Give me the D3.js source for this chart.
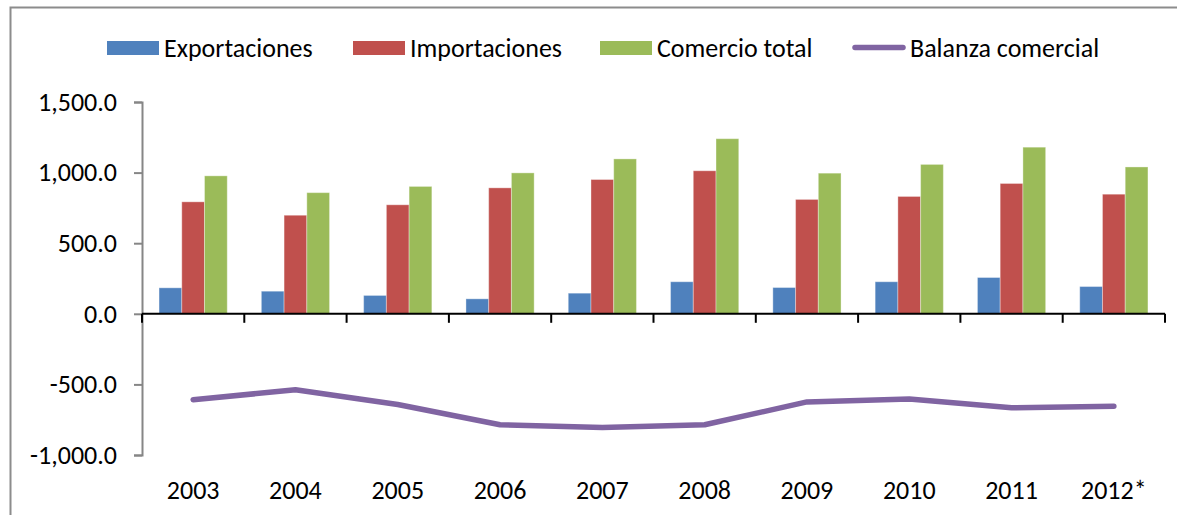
<!DOCTYPE html>
<html>
<head>
<meta charset="utf-8">
<script src="https://cdn.jsdelivr.net/npm/d3@7"></script>
<style>
  html, body { margin: 0; padding: 0; background: #fff; }
  svg { display: block; }
  text { font-family: Carlito, Lato, "Liberation Sans", sans-serif; fill: #000; }
</style>
</head>
<body>
<svg id="chart" width="1177" height="515"></svg>
<script>
const years = ["2003","2004","2005","2006","2007","2008","2009","2010","2011","2012*"];
const exportaciones = [184, 160, 130, 106, 146, 227, 186, 227, 257, 193];
const importaciones = [793, 698, 772, 892, 951, 1013, 810, 831, 923, 847];
const comercioTotal = [977, 858, 902, 998, 1097, 1240, 996, 1058, 1180, 1040];
const balanzaComercial = [-609, -538, -642, -786, -805, -786, -624, -604, -666, -654];
const yTicks = [-1000, -500, 0, 500, 1000, 1500];
const seriesNames = ["Exportaciones", "Importaciones", "Comercio total"];
const lineName = "Balanza comercial";
const colors = ["#4F81BD", "#C0504D", "#9BBB59"];
const lineColor = "#8064A2";

const svg = d3.select("#chart");
const FS = 26;
const FF = "Carlito, Lato, 'Liberation Sans', sans-serif";

// outer border (chart area frame, cropped at bottom/right)
svg.append("path")
  .attr("d", "M10.5,530 L10.5,7.5 L1190,7.5")
  .attr("fill", "none").attr("stroke", "#8c8c8c").attr("stroke-width", 2);

const x = d3.scaleBand().domain(years).range([142, 1165]).padding(0);
const bw = x.bandwidth();
const x1 = d3.scaleBand().domain(seriesNames).range([bw / 6, bw * 5 / 6]).padding(0);
const y = d3.scaleLinear().domain([-1000, 1500]).range([455, 102]);

const fmt = v => d3.format(",.1f")(v).replace("\u2212", "-");

// y axis
const yAxis = svg.append("g").attr("transform", "translate(142,0)")
  .call(d3.axisLeft(y).tickValues(yTicks).tickFormat(fmt).tickSize(8).tickPadding(17));
yAxis.select(".domain").attr("stroke", "#868686").attr("stroke-width", 2);
yAxis.selectAll(".tick line").attr("stroke", "#868686").attr("stroke-width", 2);
yAxis.selectAll("text").attr("font-size", FS).attr("font-family", null).style("font-family", FF).attr("fill", "#000");

// bars
const table = years.map((yr, i) => ({ yr, vals: [exportaciones[i], importaciones[i], comercioTotal[i]] }));
const groups = svg.append("g").selectAll("g").data(table).join("g")
  .attr("transform", d => `translate(${x(d.yr)},0)`);
groups.selectAll("rect").data(d => d.vals.map((v, k) => ({ v, k })))
  .join("rect")
  .attr("x", d => x1(seriesNames[d.k]))
  .attr("width", x1.bandwidth())
  .attr("y", d => y(Math.max(0, d.v)))
  .attr("height", d => Math.abs(y(d.v) - y(0)))
  .attr("fill", d => colors[d.k])
  .attr("stroke", "rgba(255,255,255,0.35)").attr("stroke-width", 1);

// x axis at zero
const xAxis = svg.append("g").attr("transform", `translate(0,${y(0)})`)
  .call(d3.axisBottom(x).tickSize(0).tickFormat(""));
xAxis.select(".domain").attr("stroke", "#000").attr("stroke-width", 2).attr("d", `M142,0H1165`);
xAxis.selectAll(".tick").remove();
const boundaries = years.map(yr => x(yr)).concat([x(years[years.length - 1]) + bw]);
svg.append("g").selectAll("line").data(boundaries).join("line")
  .attr("x1", d => d).attr("x2", d => d)
  .attr("y1", y(0)).attr("y2", y(0) + 9)
  .attr("stroke", "#000").attr("stroke-width", 2);

// category labels
svg.append("g").selectAll("text").data(years).join("text")
  .attr("x", d => x(d) + bw / 2)
  .attr("y", 490)
  .attr("dy", "0.35em")
  .attr("text-anchor", "middle")
  .attr("font-size", FS)
  .text(d => d);

// line
const line = d3.line().x((d, i) => x(years[i]) + bw / 2).y(d => y(d));
svg.append("path").datum(balanzaComercial)
  .attr("d", line)
  .attr("fill", "none").attr("stroke", lineColor).attr("stroke-width", 5.5)
  .attr("stroke-linecap", "round").attr("stroke-linejoin", "round");

// legend
const legendItems = [
  { name: seriesNames[0], type: "rect", color: colors[0], x: 107 },
  { name: seriesNames[1], type: "rect", color: colors[1], x: 353 },
  { name: seriesNames[2], type: "rect", color: colors[2], x: 600 },
  { name: lineName, type: "line", color: lineColor, x: 853 }
];
const lg = svg.append("g");
legendItems.forEach(it => {
  if (it.type === "rect") {
    lg.append("rect").attr("x", it.x).attr("y", 41).attr("width", 52).attr("height", 14).attr("fill", it.color);
  } else {
    lg.append("line").attr("x1", it.x + 2).attr("x2", it.x + 50).attr("y1", 47.5).attr("y2", 47.5)
      .attr("stroke", it.color).attr("stroke-width", 5.5).attr("stroke-linecap", "round");
  }
  lg.append("text").attr("x", it.x + 57).attr("y", 48).attr("dy", "0.35em")
    .attr("font-size", FS).text(it.name);
});
</script>
</body>
</html>
